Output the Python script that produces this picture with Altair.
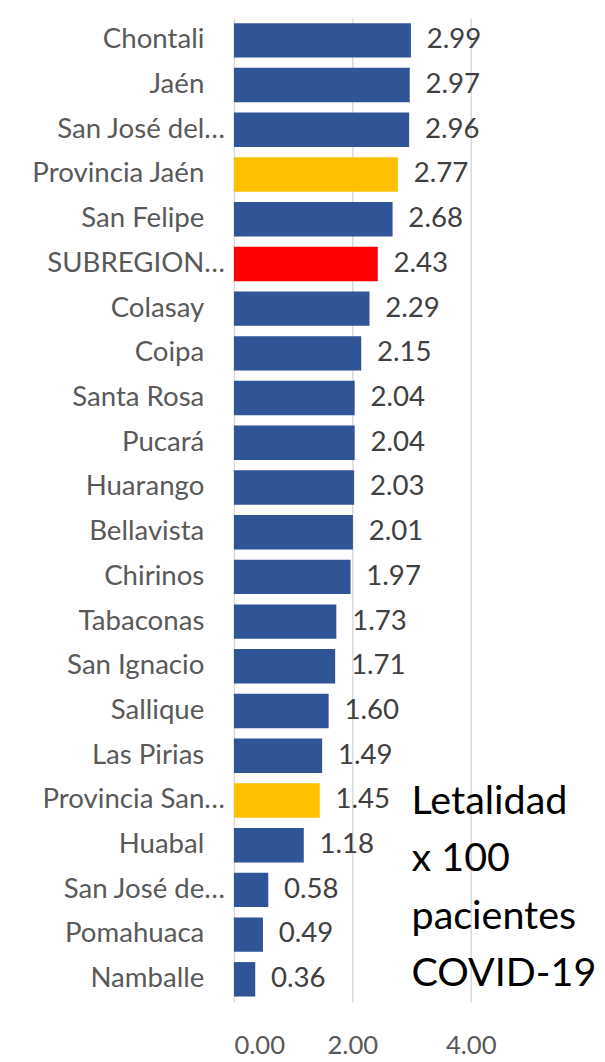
import altair as alt
import pandas as pd

categories = ["Chontali", "Jaén", "San José del…", "Provincia Jaén", "San Felipe",
              "SUBREGION…", "Colasay", "Coipa", "Santa Rosa", "Pucará", "Huarango",
              "Bellavista", "Chirinos", "Tabaconas", "San Ignacio", "Sallique",
              "Las Pirias", "Provincia San…", "Huabal", "San José de…", "Pomahuaca",
              "Namballe"]
values = [2.99, 2.97, 2.96, 2.77, 2.68, 2.43, 2.29, 2.15, 2.04, 2.04, 2.03, 2.01,
          1.97, 1.73, 1.71, 1.60, 1.49, 1.45, 1.18, 0.58, 0.49, 0.36]
groups = ["Distrito", "Distrito", "Distrito", "Provincia", "Distrito", "Subregión",
          "Distrito", "Distrito", "Distrito", "Distrito", "Distrito", "Distrito",
          "Distrito", "Distrito", "Distrito", "Distrito", "Distrito", "Provincia",
          "Distrito", "Distrito", "Distrito", "Distrito"]
x_ticks = [0, 2, 4]
note_text = "Letalidad\n\u2002x 100\npacientes\nCOVID-19"
note_row = "Provincia San…"
note_x = 3.0

df = pd.DataFrame({"cat": categories, "val": values, "grp": groups})
df["trunc"] = df["cat"].str.endswith("…")
df["zero"] = 0.0

FONT = "Lato"

y_enc = alt.Y("cat:N", sort=categories, axis=None,
              scale=alt.Scale(paddingInner=0.23, paddingOuter=0.115))
x_scale = alt.Scale(domain=[0, 6], nice=False, zero=True)

base = alt.Chart(df)

bars = base.mark_bar().encode(
    x=alt.X("val:Q", scale=x_scale,
            axis=alt.Axis(values=x_ticks, format=".2f", title=None, ticks=False,
                          domain=False, grid=True, gridColor="#D9D9D9", gridWidth=1.5,
                          labelFont=FONT, labelFontSize=26, labelColor="#595959",
                          labelPadding=32)),
    y=y_enc,
    color=alt.Color("grp:N",
                    scale=alt.Scale(domain=["Distrito", "Provincia", "Subregión"],
                                    range=["#2F5597", "#FFC000", "#FF0000"]),
                    legend=None),
)

values_text = base.mark_text(align="left", baseline="middle", dx=16, font=FONT,
                             fontSize=28, color="#404040").encode(
    x=alt.X("val:Q", scale=x_scale),
    y=y_enc,
    text=alt.Text("val:Q", format=".2f"),
)

labels_full = base.transform_filter("!datum.trunc").mark_text(
    align="right", baseline="middle", dx=-30, font=FONT, fontSize=28,
    color="#595959").encode(
    x=alt.X("zero:Q", scale=x_scale), y=y_enc, text="cat:N")

labels_trunc = base.transform_filter("datum.trunc").mark_text(
    align="right", baseline="middle", dx=-9, font=FONT, fontSize=28,
    color="#595959").encode(
    x=alt.X("zero:Q", scale=x_scale), y=y_enc, text="cat:N")

note_df = pd.DataFrame({"cat": [note_row], "x": [note_x], "t": [note_text]})
note = alt.Chart(note_df).mark_text(
    align="left", baseline="alphabetic", dy=14, lineBreak="\n", lineHeight=58,
    font=FONT, fontSize=40, color="#000000").encode(
    x=alt.X("x:Q", scale=x_scale), y=y_enc, text="t:N")

chart = alt.layer(bars, values_text, labels_full, labels_trunc, note).properties(
    width=360, height=997,
    autosize=alt.AutoSizeParams(type="none"),
    padding={"left": 229, "top": 3, "right": 8, "bottom": 54},
).configure_view(stroke=None)

chart.save("out.html", embed_options={"renderer": "svg", "actions": False})
